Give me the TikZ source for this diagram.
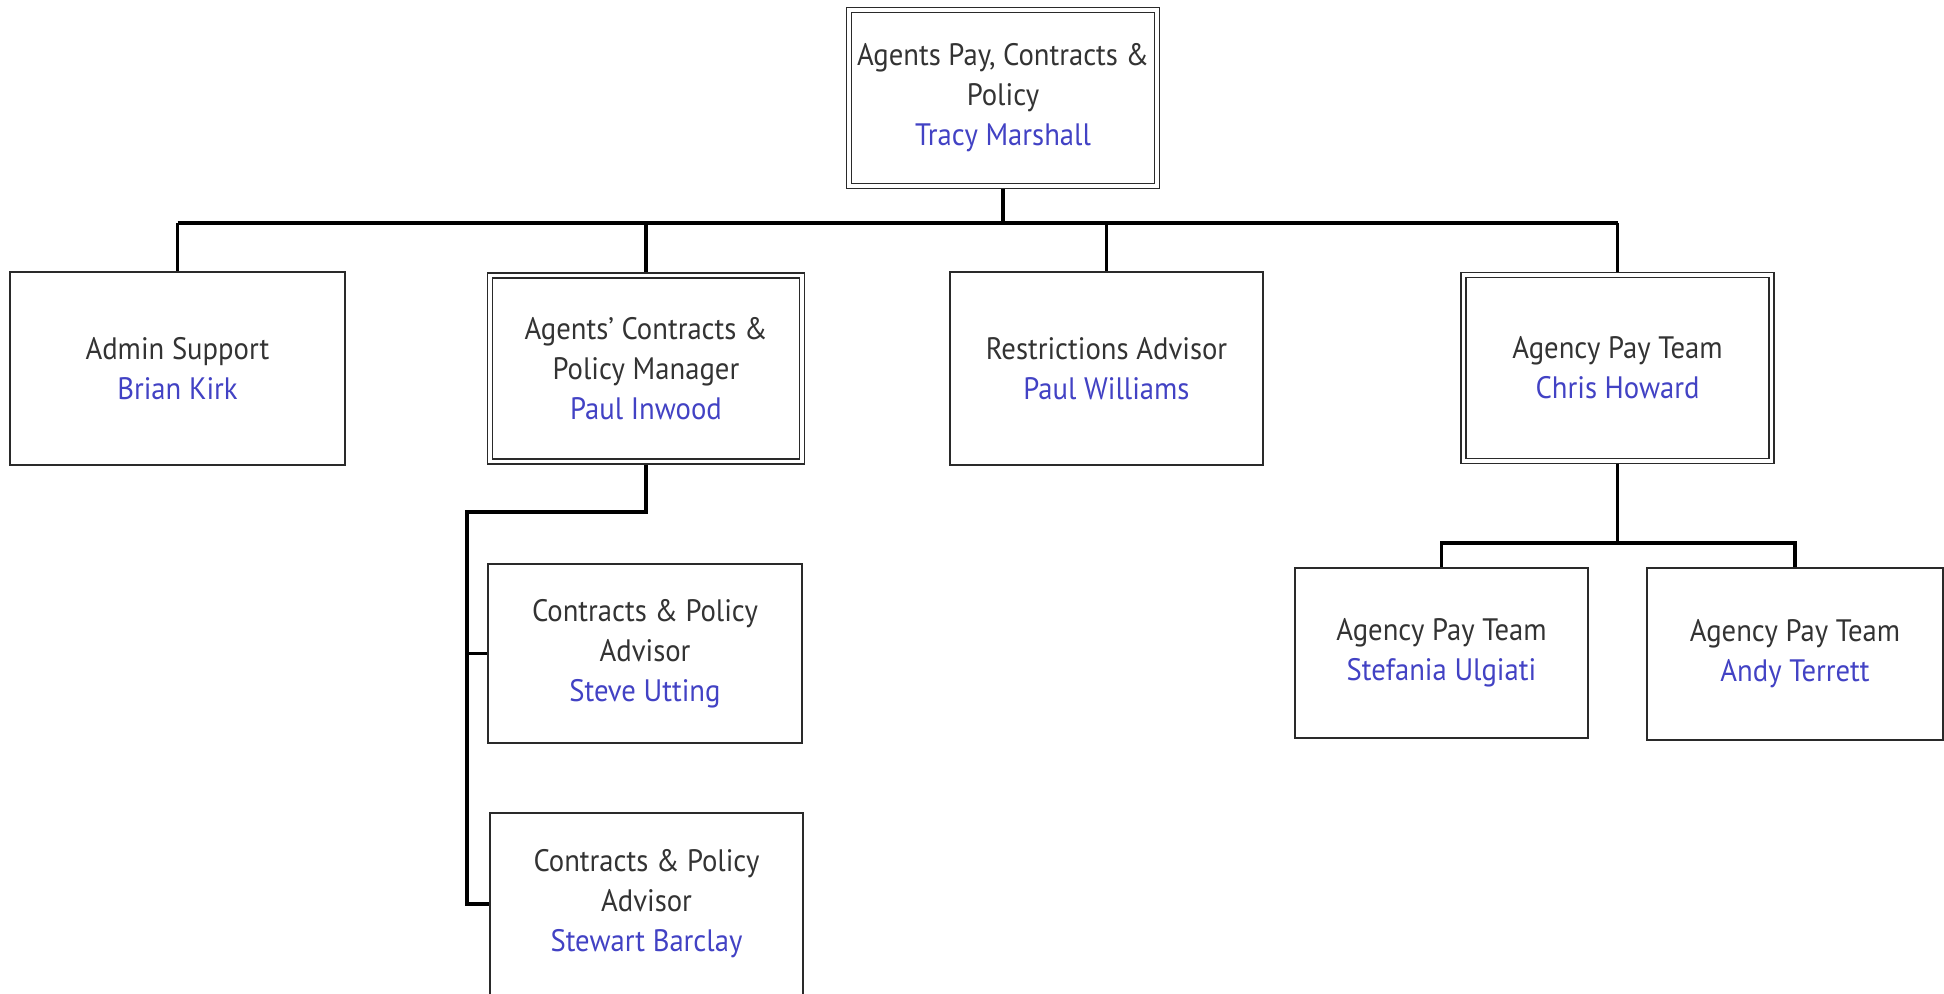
\documentclass[tikz,border=0pt]{standalone}
\usepackage{fontspec}
\setmainfont{PT Sans}[FakeStretch=0.925]
\usetikzlibrary{backgrounds}
\definecolor{ttl}{HTML}{333333}
\definecolor{nm}{HTML}{4242C4}
\definecolor{edge}{HTML}{2A2A2A}
\newcommand\nm[1]{\textcolor{nm}{#1}}
\tikzset{
  box/.style={draw=edge, line width=1.2pt, rectangle, align=center,
    font=\fontsize{15.5}{20}\selectfont, text=ttl, inner sep=2pt},
  dbox/.style={box, double=white, double distance=1.6pt, line width=0.8pt},
  conn/.style={line width=1.6pt, black},
}
\begin{document}
\begin{tikzpicture}[x=0.5pt, y=-0.5pt]
\useasboundingbox (0,0) rectangle (1944,993);

\node[dbox, minimum width=154pt, minimum height=88pt] (top) at (1003,98)
  {Agents Pay, Contracts \&\\Policy\\\nm{Tracy Marshall}};
\node[box, minimum width=167.5pt, minimum height=96.5pt] (admin) at (177.5,368.5)
  {Admin Support\\\nm{Brian Kirk}};
\node[dbox, minimum width=156pt, minimum height=93pt] (acm) at (646,368.5)
  {Agents' Contracts \&\\Policy Manager\\\nm{Paul Inwood}};
\node[box, minimum width=156.5pt, minimum height=96.5pt] (restr) at (1106.5,368.5)
  {Restrictions Advisor\\\nm{Paul Williams}};
\node[dbox, minimum width=154pt, minimum height=93pt] (aph) at (1617.5,368)
  {Agency Pay Team\\\nm{Chris Howard}};
\node[box, minimum width=157pt, minimum height=89.5pt] (steve) at (645,653.5)
  {Contracts \& Policy\\Advisor\\\nm{Steve Utting}};
\node[box, minimum width=156.5pt, minimum height=91pt] (stewart) at (646.5,904)
  {Contracts \& Policy\\Advisor\\\nm{Stewart Barclay}};
\node[box, minimum width=146.5pt, minimum height=85pt] (stef) at (1441.5,653)
  {Agency Pay Team\\\nm{Stefania Ulgiati}};
\node[box, minimum width=148pt, minimum height=86pt] (andy) at (1795,654)
  {Agency Pay Team\\\nm{Andy Terrett}};

\coordinate (bus) at (0,223);
\coordinate (acmj) at (467,512);
\coordinate (aphj) at (0,543);

\begin{scope}[on background layer]
  \draw[conn] (top.south) -- (top.south |- bus);
  \draw[conn] (admin.north |- bus) -- (aph.north |- bus);
  \foreach \n in {admin,acm,restr,aph}
    \draw[conn] (\n.north) -- (\n.north |- bus);
  \draw[conn] (acm.south) |- (acmj) -- (acmj |- stewart.west) -- (stewart.west);
  \draw[conn] (acmj |- steve.west) -- (steve.west);
  \draw[conn] (aph.south) -- (aph.south |- aphj);
  \draw[conn] (stef.north) |- (aph.south |- aphj) -| (andy.north);
\end{scope}
\end{tikzpicture}
\end{document}
